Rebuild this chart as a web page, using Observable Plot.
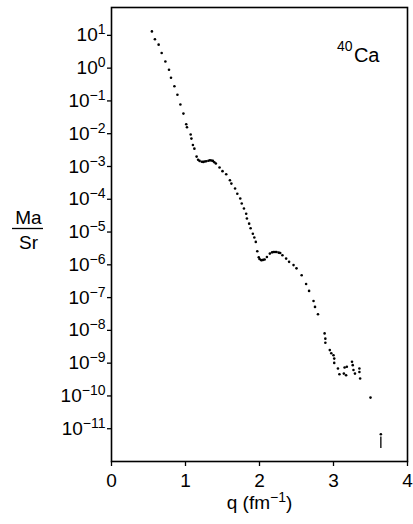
<!DOCTYPE html>
<html><head><meta charset="utf-8">
<script src="https://cdn.jsdelivr.net/npm/d3@7"></script>
<script src="https://cdn.jsdelivr.net/npm/@observablehq/plot@0.6"></script>
<style>body{margin:0;background:#fff} svg{display:block}</style>
</head><body><div id="chart"></div>
<script>
// momentum transfer q (fm^-1)
const q = [0.546,0.587,0.637,0.678,0.728,0.777,0.804,0.85,0.891,0.931,0.972,1.01,1.02,1.07,1.08,1.10,1.12,1.15,1.17,1.19,1.22,1.24,1.26,1.28,1.31,1.33,1.35,1.37,1.39,1.41,1.46,1.50,1.55,1.60,1.62,1.67,1.70,1.74,1.76,1.79,1.82,1.83,1.86,1.88,1.91,1.93,1.95,1.97,1.99,2.00,2.02,2.03,2.05,2.07,2.10,2.14,2.17,2.19,2.21,2.23,2.26,2.28,2.31,2.36,2.40,2.46,2.50,2.57,2.63,2.67,2.73,2.75,2.79,2.88,2.89,2.89,2.95,2.97,3.00,3.01,3.01,3.06,3.08,3.14,3.15,3.18,3.17,3.25,3.26,3.27,3.29,3.35,3.35,3.36,3.50,3.64];
// Ma/Sr ratio
const ratio = [13.2,7.6,5.2,2.9,1.6,0.89,0.51,0.28,0.155,0.078,0.041,0.0195,0.0158,0.0095,0.0071,0.0045,0.0035,0.0020,0.0016,0.00148,0.00140,0.00138,0.00142,0.00145,0.00150,0.00155,0.00152,0.00148,0.00135,0.00123,0.00093,0.00072,0.00058,0.00038,0.00030,0.000214,0.000148,0.000105,7.4e-5,5.2e-5,3.6e-5,2.6e-5,1.8e-5,1.3e-5,8.9e-6,6.8e-6,5.0e-6,2.6e-6,1.7e-6,1.5e-6,1.4e-6,1.38e-6,1.42e-6,1.45e-6,1.74e-6,2.2e-6,2.4e-6,2.45e-6,2.45e-6,2.45e-6,2.35e-6,2.3e-6,1.95e-6,1.55e-6,1.23e-6,9.8e-7,7.8e-7,4.8e-7,2.6e-7,1.6e-7,7.9e-8,5.2e-8,3.1e-8,8.1e-9,5.6e-9,4.2e-9,2.5e-9,2.0e-9,1.74e-9,1.38e-9,1.02e-9,6.9e-10,4.6e-10,4.8e-10,7.4e-10,7.8e-10,4.3e-10,1.1e-9,8.7e-10,6.2e-10,4.8e-10,6.9e-10,5.4e-10,3.4e-10,8.9e-11,6.8e-12];
// error bar on the last point
const errQ = [3.64];
const errLow = [2.5e-12];
const errHigh = [5.6e-12];
// ticks
const xTicks = [0,1,2,3,4];
const yTicks = [1e1,1e0,1e-1,1e-2,1e-3,1e-4,1e-5,1e-6,1e-7,1e-8,1e-9,1e-10,1e-11];
const nucleus = ["40","Ca"];
const yLabel = ["Ma","Sr"];
const xLabel = "q (fm^−1)";

const points = q.map((d,i)=>({q:d, r:ratio[i]}));
const errs = errQ.map((d,i)=>({q:d, lo:errLow[i], hi:errHigh[i]}));
const font = "'Liberation Sans', Arial, Helvetica, sans-serif";

const svg = Plot.plot({
  width: 413, height: 524,
  marginLeft: 111, marginRight: 6, marginTop: 7, marginBottom: 63,
  style: {fontFamily: font, fontSize: "19px", color: "#000", background: "#fff"},
  x: {domain: [0,4]},
  y: {type: "log", domain: [1e-12, Math.pow(10,1.85)]},
  marks: [
    Plot.axisY({ticks: yTicks, tickSize: 4, tickPadding: 2, strokeWidth: 1.3, label: null,
      tickFormat: d => "10" + String(Math.round(Math.log10(d))).replace("-","−")}),
    Plot.axisX({ticks: xTicks, tickSize: 5, tickPadding: 7, strokeWidth: 1.3, label: null,
      tickFormat: d => String(d)}),
    Plot.frame({stroke: "#000", strokeWidth: 1.6}),
    Plot.dot(points, {x: "q", y: "r", r: 1.3, fill: "#000"}),
    Plot.ruleX(errs, {x: "q", y1: "lo", y2: "hi", stroke: "#000", strokeWidth: 1.3}),
    Plot.text([nucleus[1]], {text: d => d, frameAnchor: "top-right", textAnchor: "end", dx: -28, dy: 40, fontSize: 20}),
    Plot.text([nucleus[0]], {text: d => d, frameAnchor: "top-right", textAnchor: "end", dx: -55, dy: 34, fontSize: 14}),
    Plot.text([yLabel[0]], {text: d => d, frameAnchor: "left", textAnchor: "middle", dx: -83, dy: -16.5, fontSize: 19}),
    Plot.text([yLabel[1]], {text: d => d, frameAnchor: "left", textAnchor: "middle", dx: -83, dy: 8, fontSize: 19}),
    Plot.text([xLabel], {text: d => d, frameAnchor: "bottom", textAnchor: "middle", dy: 47, fontSize: 19})
  ]
});

// superscripts on y tick labels
d3.select(svg).selectAll('g[aria-label="y-axis tick label"] text').each(function() {
  const s = this.textContent;
  const t = d3.select(this);
  t.text(null);
  t.append("tspan").text(s.slice(0,2));
  t.append("tspan").attr("dy", "-7").attr("font-size", "14px").text(s.slice(2));
});
// superscript in x label
d3.select(svg).selectAll("text").each(function() {
  const s = this.textContent;
  if (s === xLabel) {
    const [a, b] = s.split("^");
    const t = d3.select(this);
    t.text(null);
    t.append("tspan").text(a);
    t.append("tspan").attr("dy", "-7").attr("font-size", "14px").text(b.replace(")", ""));
    t.append("tspan").attr("dy", "7").text(")");
  }
});
// fraction bar of Ma/Sr
d3.select(svg).append("line")
  .attr("x1", 12).attr("x2", 43).attr("y1", 228.5).attr("y2", 228.5)
  .attr("stroke", "#000").attr("stroke-width", 1.3);

document.getElementById("chart").appendChild(svg);
</script>
</body></html>
